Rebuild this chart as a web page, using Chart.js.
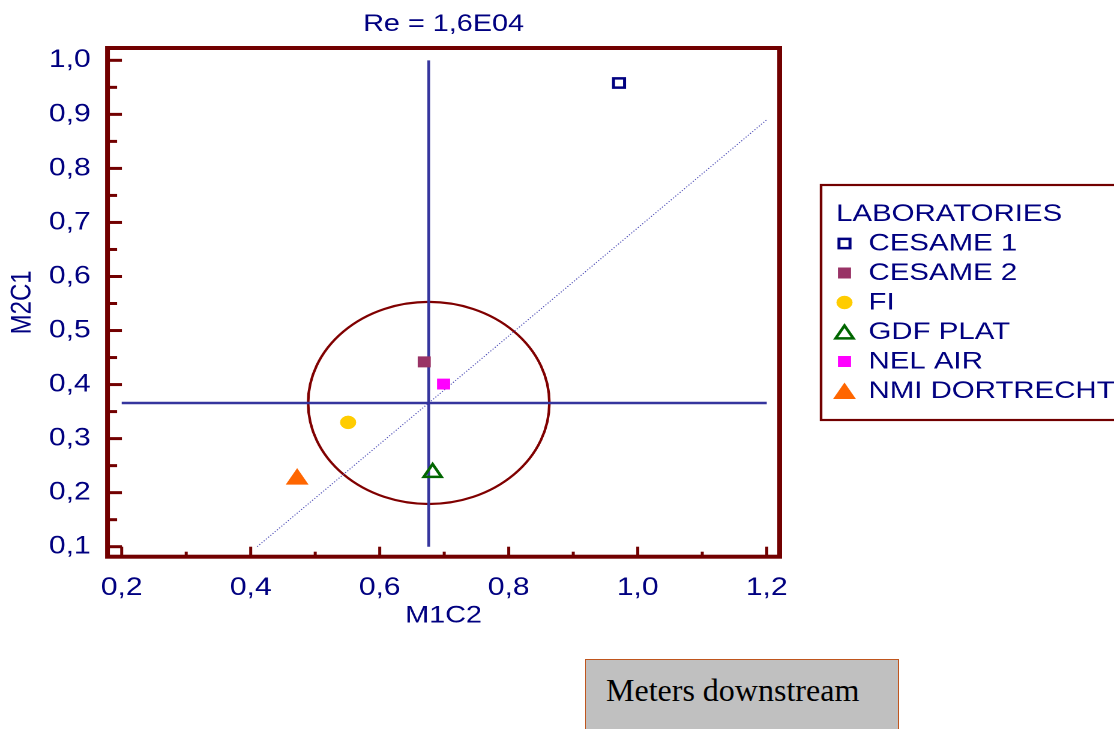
<!DOCTYPE html>
<html>
<head>
<meta charset="utf-8">
<script src="https://cdn.jsdelivr.net/npm/chart.js@4.4.1/dist/chart.umd.min.js"></script>
<style>
  html, body { margin: 0; padding: 0; background: #fff; overflow: hidden; }
  #wrap { position: relative; width: 1114px; height: 729px; }
  /* the original picture is stretched sideways, so we draw narrow and scale */
  #chart { position: absolute; left: 0; top: 0; transform-origin: 0 0; transform: scaleX(1.2004); }
  #note {
    position: absolute; left: 585px; top: 659px; width: 314px; height: 100px;
    box-sizing: border-box; background: #c0c0c0; border: 1.5px solid #c0561e;
    font-family: "Liberation Serif", "Times New Roman", serif; font-size: 32px; line-height: 32px;
    color: #000; padding: 13.7px 0 0 20px;
  }
</style>
</head>
<body>
<div id="wrap">
  <canvas id="chart" width="928" height="729"></canvas>
  <div id="note">Meters downstream</div>
</div>
<script>
// data
const LABS = ['CESAME 1', 'CESAME 2', 'FI', 'GDF PLAT', 'NEL AIR', 'NMI DORTRECHT'];
const M1C2 = [0.971, 0.669, 0.551, 0.682, 0.699, 0.472];
const M2C1 = [0.958, 0.442, 0.330, 0.237, 0.401, 0.225];
const X_TICKS = [0.2, 0.4, 0.6, 0.8, 1.0, 1.2];
const Y_TICKS = [0.1, 0.2, 0.3, 0.4, 0.5, 0.6, 0.7, 0.8, 0.9, 1.0];
const CENTER = [0.676, 0.366];      // crosshair / circle centre
const RADIUS = 0.187;               // circle radius, data units
const DIAG_X = [0.41, 1.2];
const DIAG_Y = [0.1, 0.89];

const NAVY = '#000080';
const MAROON = '#720000';
const FONT = "'Liberation Sans', Arial, sans-serif";

const STYLES = [
  { pointStyle: 'rect',     radius: 6.5, bg: 'rgba(0,0,0,0)', border: '#000080', bw: 2.5 },
  { pointStyle: 'rect',     radius: 7,   bg: '#993366',       border: '#993366', bw: 1 },
  { pointStyle: 'circle',   radius: 6.5, bg: '#ffcc00',       border: '#ffcc00', bw: 0.5 },
  { pointStyle: 'triangle', radius: 8.5, bg: 'rgba(0,0,0,0)', border: '#006600', bw: 2.5 },
  { pointStyle: 'rect',     radius: 7,   bg: '#ff00ff',       border: '#ff00ff', bw: 1 },
  { pointStyle: 'triangle', radius: 10,  bg: '#ff6600',       border: '#ff6600', bw: 1 }
];

const fmt = v => v.toFixed(1).replace('.', ',');

const labDatasets = LABS.map((name, i) => ({
  type: 'scatter',
  label: name,
  data: [{ x: M1C2[i], y: M2C1[i] }],
  pointStyle: STYLES[i].pointStyle,
  pointRadius: STYLES[i].radius,
  backgroundColor: STYLES[i].bg,
  borderColor: STYLES[i].border,
  borderWidth: STYLES[i].bw,
  order: 1
}));

const lineDatasets = [
  { type: 'line', label: 'v', data: [{ x: CENTER[0], y: Y_TICKS[0] }, { x: CENTER[0], y: Y_TICKS[Y_TICKS.length - 1] }],
    borderColor: '#35359e', borderWidth: 2.3, pointRadius: 0, order: 3 },
  { type: 'line', label: 'h', data: [{ x: X_TICKS[0], y: CENTER[1] }, { x: X_TICKS[X_TICKS.length - 1], y: CENTER[1] }],
    borderColor: '#35359e', borderWidth: 2.5, pointRadius: 0, order: 3 },
  { type: 'line', label: 'd', data: [{ x: DIAG_X[0], y: DIAG_Y[0] }, { x: DIAG_X[1], y: DIAG_Y[1] }],
    borderColor: '#4b4bb5', borderWidth: 1, borderDash: [1, 1.6], pointRadius: 0, order: 3 }
];

// circle, frame, inward ticks and the boxed legend
const decor = {
  id: 'decor',
  beforeDatasetsDraw(chart) {
    const { ctx, scales: { x, y } } = chart;
    const cx = x.getPixelForValue(CENTER[0]), cy = y.getPixelForValue(CENTER[1]);
    const rx = Math.abs(x.getPixelForValue(CENTER[0] + RADIUS) - cx);
    const ry = Math.abs(y.getPixelForValue(CENTER[1] + RADIUS) - cy);
    ctx.save();
    ctx.strokeStyle = '#800000';
    ctx.lineWidth = 2.2;
    ctx.beginPath();
    ctx.ellipse(cx, cy, rx, ry, 0, 0, Math.PI * 2);
    ctx.stroke();
    ctx.restore();
  },
  afterDraw(chart) {
    const { ctx, chartArea: a, scales: { x, y } } = chart;
    ctx.save();
    ctx.strokeStyle = MAROON;
    // ticks on the inside
    ctx.lineWidth = 2.5;
    X_TICKS.forEach((v, i) => {
      const px = x.getPixelForValue(v);
      ctx.beginPath(); ctx.moveTo(px, a.bottom); ctx.lineTo(px, a.bottom - 10); ctx.stroke();
      if (i < X_TICKS.length - 1) {
        const mx = x.getPixelForValue((v + X_TICKS[i + 1]) / 2);
        ctx.beginPath(); ctx.moveTo(mx, a.bottom); ctx.lineTo(mx, a.bottom - 5); ctx.stroke();
      }
    });
    ctx.lineWidth = 3;
    Y_TICKS.forEach((v, i) => {
      const py = y.getPixelForValue(v);
      ctx.beginPath(); ctx.moveTo(a.left, py); ctx.lineTo(a.left + 12, py); ctx.stroke();
      if (i < Y_TICKS.length - 1) {
        const my = y.getPixelForValue((v + Y_TICKS[i + 1]) / 2);
        ctx.beginPath(); ctx.moveTo(a.left, my); ctx.lineTo(a.left + 8, my); ctx.stroke();
      }
    });
    // frame
    ctx.lineWidth = 4;
    ctx.strokeRect(a.left, a.top, a.right - a.left, a.bottom - a.top);

    // legend box
    const lx = 684, ly = 185;
    ctx.lineWidth = 2.2;
    ctx.strokeRect(lx, ly, 260, 235);
    ctx.fillStyle = NAVY;
    ctx.font = '24.5px ' + FONT;
    ctx.textBaseline = 'middle';
    ctx.textAlign = 'left';
    ctx.fillText('LABORATORIES', 696.5, 214);
    chart.data.datasets.forEach(ds => {
      const idx = LABS.indexOf(ds.label);
      if (idx < 0) return;
      const rowY = 243.5 + 29.5 * idx;
      ctx.fillStyle = ds.backgroundColor;
      ctx.strokeStyle = ds.borderColor;
      ctx.lineWidth = ds.borderWidth;
      Chart.helpers.drawPoint(ctx, {
        pointStyle: ds.pointStyle, radius: ds.pointRadius, rotation: 0, borderWidth: ds.borderWidth
      }, 703.5, rowY + (ds.pointStyle === 'triangle' ? ds.pointRadius / 4 : 0));
      ctx.fillStyle = NAVY;
      ctx.fillText(ds.label, 723.5, rowY);
    });
    ctx.restore();
  }
};

new Chart(document.getElementById('chart'), {
  data: { datasets: [...labDatasets, ...lineDatasets] },
  options: {
    responsive: false,
    devicePixelRatio: 2,
    animation: false,
    events: [],
    layout: { padding: { left: 0, right: 278.5, top: 0, bottom: 0 } },
    plugins: {
      legend: { display: false },
      tooltip: { enabled: false },
      title: {
        display: true, text: 'Re = 1,6E04', color: NAVY, fullSize: false,
        font: { family: FONT, size: 24, weight: 'normal' },
        padding: { top: 10.1, bottom: 9.1 }
      }
    },
    scales: {
      x: {
        type: 'linear', min: 0.178, max: 1.22,
        afterBuildTicks: s => { s.ticks = X_TICKS.map(v => ({ value: v })); },
        afterFit: s => { s.height = 172.3; },
        grid: { display: false }, border: { display: false },
        ticks: { color: NAVY, font: { family: FONT, size: 25 }, padding: 8.3, autoSkip: false, maxRotation: 0, callback: v => fmt(v) },
        title: { display: true, text: 'M1C2', color: NAVY, font: { family: FONT, size: 24 }, padding: { top: 0, bottom: 98.6 } }
      },
      y: {
        type: 'linear', min: 0.0815, max: 1.0228,
        afterBuildTicks: s => { s.ticks = Y_TICKS.map(v => ({ value: v })); },
        afterFit: s => { s.width = 89.55; },
        grid: { display: false }, border: { display: false },
        ticks: { color: NAVY, font: { family: FONT, size: 25 }, padding: 6, autoSkip: false, callback: v => fmt(v) },
        title: { display: true, text: 'M2C1', color: NAVY, font: { family: FONT, size: 24 }, padding: { top: 4.3, bottom: 0 } }
      }
    }
  },
  plugins: [decor]
});
</script>
</body>
</html>
